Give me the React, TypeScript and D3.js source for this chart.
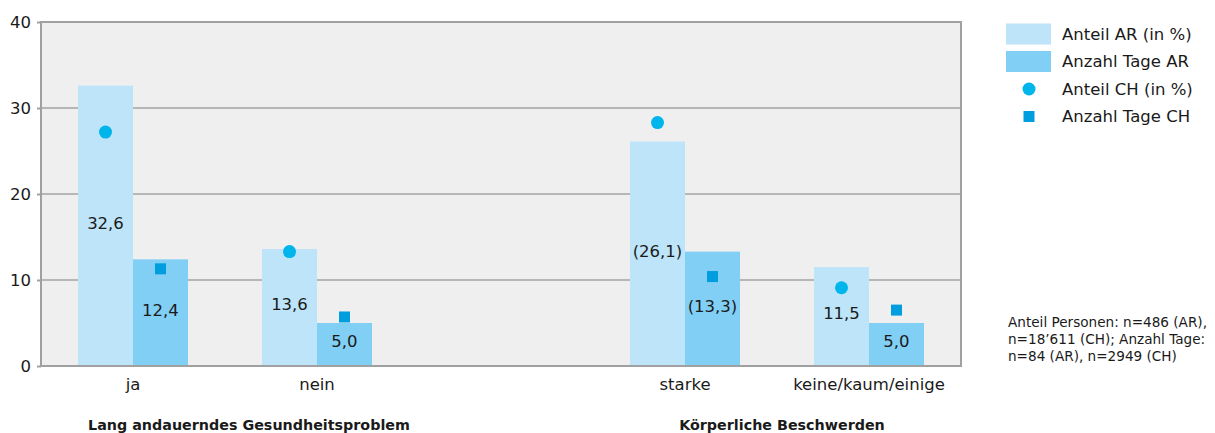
import * as d3 from 'd3';
import { useRef, useEffect } from 'react';

const categories = ['ja', 'nein', '', 'starke', 'keine/kaum/einige'];
const barCategories = ['ja', 'nein', 'starke', 'keine/kaum/einige'];
const anteilAR = [32.6, 13.6, 26.1, 11.5];
const tageAR = [12.4, 5.0, 13.3, 5.0];
const anteilCH = [27.2, 13.3, 28.3, 9.1];
const tageCH = [11.3, 5.7, 10.4, 6.5];
const anteilLabels = ['32,6', '13,6', '(26,1)', '11,5'];
const tageLabels = ['12,4', '5,0', '(13,3)', '5,0'];
const groupLabels = ['Lang andauerndes Gesundheitsproblem', 'Körperliche Beschwerden'];
const groupMembers = [['ja', 'nein'], ['starke', 'keine/kaum/einige']];
const legendLabels = ['Anteil AR (in %)', 'Anzahl Tage AR', 'Anteil CH (in %)', 'Anzahl Tage CH'];
const yTicks = [0, 10, 20, 30, 40];
const noteLines = ['Anteil Personen: n=486 (AR),', 'n=18\u2019611 (CH); Anzahl Tage:', 'n=84 (AR), n=2949 (CH)'];

const C_AR1 = '#bde4f8';
const C_AR2 = '#81cff4';
const C_CH1 = '#00b5ec';
const C_CH2 = '#009ddf';
const FONT = '"DejaVu Sans", sans-serif';

export default function App() {
  const svgRef = useRef<SVGSVGElement>(null);

  useEffect(() => {
    if (!svgRef.current) return;
    const svg = d3.select(svgRef.current);
    svg.selectAll('*').remove();

    const left = 41, right = 961, top = 22, bottom = 366;
    const x = d3.scaleBand<string>().domain(categories).range([left, right]).paddingInner(0);
    const sub = d3.scaleBand<string>().domain(['AR', 'Tage']).range([0, x.bandwidth()]).paddingInner(0).paddingOuter(0.673);
    const y = d3.scaleLinear().domain([0, 40]).range([bottom, top]);

    // plot background
    svg.append('rect')
      .attr('x', left).attr('y', top).attr('width', right - left).attr('height', bottom - top)
      .attr('fill', '#efefef');

    // gridlines
    svg.append('g').selectAll('line').data(yTicks.filter((t) => t > 0 && t < 40)).join('line')
      .attr('x1', left).attr('x2', right).attr('y1', (d) => y(d)).attr('y2', (d) => y(d))
      .attr('stroke', '#a3a3a3').attr('stroke-width', 1.5);

    // bars
    const bars = svg.append('g');
    barCategories.forEach((c, i) => {
      const x0 = x(c)!;
      bars.append('rect')
        .attr('x', x0 + sub('AR')!).attr('y', y(anteilAR[i]))
        .attr('width', sub.bandwidth()).attr('height', y(0) - y(anteilAR[i]))
        .attr('fill', C_AR1);
      bars.append('rect')
        .attr('x', x0 + sub('Tage')!).attr('y', y(tageAR[i]))
        .attr('width', sub.bandwidth()).attr('height', y(0) - y(tageAR[i]))
        .attr('fill', C_AR2);
      bars.append('text')
        .attr('x', x0 + sub('AR')! + sub.bandwidth() / 2)
        .attr('y', (y(anteilAR[i]) + y(0)) / 2 - 3)
        .attr('dy', '0.36em').attr('text-anchor', 'middle')
        .attr('font-size', 16.5).attr('fill', '#1a1a1a').text(anteilLabels[i]);
      bars.append('text')
        .attr('x', x0 + sub('Tage')! + sub.bandwidth() / 2)
        .attr('y', (y(tageAR[i]) + y(0)) / 2 - 3)
        .attr('dy', '0.36em').attr('text-anchor', 'middle')
        .attr('font-size', 16.5).attr('fill', '#1a1a1a').text(tageLabels[i]);
      bars.append('circle')
        .attr('cx', x0 + sub('AR')! + sub.bandwidth() / 2).attr('cy', y(anteilCH[i]))
        .attr('r', 6.5).attr('fill', C_CH1);
      bars.append('rect')
        .attr('x', x0 + sub('Tage')! + sub.bandwidth() / 2 - 5.5).attr('y', y(tageCH[i]) - 5.5)
        .attr('width', 11).attr('height', 11).attr('fill', C_CH2);
    });

    // frame
    svg.append('rect')
      .attr('x', left).attr('y', top).attr('width', right - left).attr('height', bottom - top)
      .attr('fill', 'none').attr('stroke', '#a0a0a0').attr('stroke-width', 2);

    // y axis
    svg.append('g').attr('transform', `translate(${left},0)`)
      .call(d3.axisLeft(y).tickValues(yTicks).tickSize(4).tickPadding(6))
      .call((g) => g.select('.domain').remove())
      .call((g) => g.selectAll('.tick line').attr('stroke', '#a0a0a0').attr('stroke-width', 2))
      .call((g) => g.selectAll('.tick text').attr('font-size', 16.5).attr('font-family', FONT).attr('fill', '#1a1a1a'));

    // x axis
    svg.append('g').attr('transform', `translate(0,${bottom})`)
      .call(d3.axisBottom(x).tickSize(0).tickPadding(12))
      .call((g) => g.select('.domain').remove())
      .call((g) => g.selectAll('.tick text').attr('font-size', 16.5).attr('font-family', FONT).attr('fill', '#1a1a1a'));

    // group labels: the first one sits a bit right of its pair's centre in the original
    const groupShift = [24, 5];
    groupLabels.forEach((lab, i) => {
      const [a, b] = groupMembers[i];
      const cx = (x(a)! + x(b)!) / 2 + x.bandwidth() / 2 + groupShift[i];
      svg.append('text').attr('x', cx).attr('y', 430)
        .attr('text-anchor', 'middle').attr('font-size', 14.3).attr('font-weight', 'bold')
        .attr('fill', '#1a1a1a').text(lab);
    });

    // legend
    const lg = svg.append('g').attr('transform', 'translate(1006,23)');
    legendLabels.forEach((lab, i) => {
      const cy = 11 + i * 27.5;
      if (i === 0 || i === 1) {
        lg.append('rect').attr('x', 0).attr('y', cy - 10.5).attr('width', 45).attr('height', 21)
          .attr('fill', i === 0 ? C_AR1 : C_AR2);
      } else if (i === 2) {
        lg.append('circle').attr('cx', 23).attr('cy', cy).attr('r', 6.5).attr('fill', C_CH1);
      } else {
        lg.append('rect').attr('x', 17.5).attr('y', cy - 5.5).attr('width', 11).attr('height', 11).attr('fill', C_CH2);
      }
      lg.append('text').attr('x', 56).attr('y', cy).attr('dy', '0.36em')
        .attr('font-size', 16.5).attr('fill', '#1a1a1a').text(lab);
    });

    // note
    const note = svg.append('text').attr('x', 1008).attr('font-size', 13.6).attr('fill', '#1a1a1a');
    noteLines.forEach((line, i) => {
      note.append('tspan').attr('x', 1008).attr('y', 327 + i * 17).text(line);
    });
  }, []);

  return (
    <svg
      ref={svgRef}
      width={1215}
      height={433}
      style={{ position: 'absolute', left: 0, top: 0, fontFamily: FONT, background: '#fff' }}
    />
  );
}
